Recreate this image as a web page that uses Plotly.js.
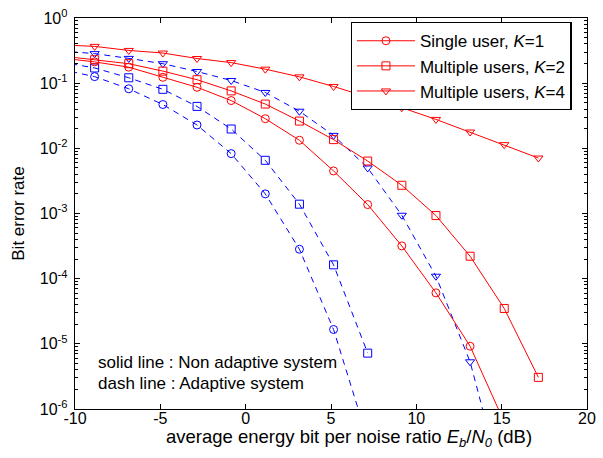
<!DOCTYPE html>
<html>
<head>
<meta charset="utf-8">
<script src="https://cdn.plot.ly/plotly-3.0.1.min.js"></script>
<style>html,body{margin:0;padding:0;background:#fff;}#chart{width:603px;height:458px;}</style>
</head>
<body>
<div id="chart"></div>
<script>
// Eb/N0 (dB) sample points
var ebn0 = [-10.85, -8.85, -6.85, -4.85, -2.85, -0.85, 1.15, 3.15, 5.15, 7.15, 9.15, 11.15, 13.15, 15.15, 17.15];

// Non adaptive system (solid, red)
var nonAdaptiveK1 = [0.244, 0.212, 0.176, 0.123, 0.0865, 0.0541, 0.0285, 0.0133, 0.0045, 0.00137, 3.18e-4, 6.05e-5, 9.2e-6, 6.3e-7];
var nonAdaptiveK2 = [0.262, 0.229, 0.199, 0.153, 0.113, 0.0761, 0.0478, 0.0262, 0.0136, 0.00638, 0.00271, 9.3e-4, 2.21e-4, 3.49e-5, 3.06e-6];
var nonAdaptiveK4 = [0.387, 0.367, 0.318, 0.29, 0.239, 0.207, 0.164, 0.125, 0.089, 0.062, 0.042, 0.0278, 0.0178, 0.0114, 0.0071];

// Adaptive system (dashed, blue)
var adaptiveK1 = [0.163, 0.126, 0.082, 0.0470, 0.0228, 0.0083, 0.00200, 2.83e-4, 1.66e-5, 3.4e-7];
var adaptiveK2 = [0.212, 0.171, 0.121, 0.0805, 0.044, 0.0198, 0.00655, 0.00139, 1.63e-4, 7.2e-6];
var adaptiveK4 = [0.313, 0.284, 0.240, 0.199, 0.151, 0.110, 0.072, 0.0371, 0.0158, 0.005, 9.4e-4, 1.09e-4, 5.3e-6, 5.5e-8];

var legendNames = ['Single user, <i>K</i>=1', 'Multiple users, <i>K</i>=2', 'Multiple users, <i>K</i>=4'];

var xTickVals = [-10, -5, 0, 5, 10, 15, 20];
var xTickText = ['-10', '-5', '0', '5', '10', '15', '20'];
var yTickVals = [1e-6, 1e-5, 1e-4, 1e-3, 1e-2, 1e-1, 1];
var yTickText = ['10<sup>-6</sup>', '10<sup>-5</sup>', '10<sup>-4</sup>', '10<sup>-3</sup>', '10<sup>-2</sup>', '10<sup>-1</sup>', '10<sup>0</sup>'];
var xTitle = 'average energy bit per noise ratio <i>E</i><sub><i>b</i></sub>/<i>N</i><sub><i>0</i></sub> (dB)';
var yTitle = 'Bit error rate';
var noteSolid = 'solid line : Non adaptive system';
var noteDash = 'dash line : Adaptive system';

var yMinor = [];
for (var e = -6; e < 0; e++) { for (var m = 2; m <= 9; m++) { yMinor.push(m * Math.pow(10, e)); } }

var RED = '#ff0000', BLUE = '#0000ff';
var FONT = 'Arial, "Liberation Sans", sans-serif';

function tr(y, color, dash, symbol, name, show) {
  return {
    x: ebn0.slice(0, y.length), y: y, type: 'scatter', mode: 'lines+markers',
    name: name || '', showlegend: !!show,
    line: {color: color, width: 1, dash: dash},
    marker: {symbol: symbol, size: 8, color: color, line: {color: color, width: 1}}
  };
}

var data = [
  tr(adaptiveK1, BLUE, '6px,5px', 'circle-open'),
  tr(adaptiveK2, BLUE, '6px,5px', 'square-open'),
  tr(adaptiveK4, BLUE, '6px,5px', 'triangle-down-open'),
  tr(nonAdaptiveK1, RED, 'solid', 'circle-open', legendNames[0], true),
  tr(nonAdaptiveK2, RED, 'solid', 'square-open', legendNames[1], true),
  tr(nonAdaptiveK4, RED, 'solid', 'triangle-down-open', legendNames[2], true)
];

var layout = {
  width: 603, height: 458,
  margin: {l: 75, r: 16, t: 18, b: 49},
  paper_bgcolor: '#fff', plot_bgcolor: '#fff',
  font: {family: FONT, color: '#000', size: 16},
  showlegend: true,
  xaxis: {
    range: [-10, 20], tickmode: 'array', tickvals: xTickVals, ticktext: xTickText,
    ticks: 'inside', ticklen: 5, tickcolor: '#000', mirror: 'allticks',
    showline: true, linecolor: '#000', linewidth: 1.3, showgrid: false, zeroline: false,
    tickfont: {size: 16}, ticklabelstandoff: -6
  },
  yaxis: {
    type: 'log', range: [-6, 0], tickmode: 'array', tickvals: yTickVals, ticktext: yTickText,
    ticks: 'inside', ticklen: 5, tickcolor: '#000', mirror: 'allticks',
    showline: true, linecolor: '#000', linewidth: 1.3, showgrid: false, zeroline: false,
    tickfont: {size: 16}, ticklabelstandoff: 3,
    minor: {tickmode: 'array', tickvals: yMinor, ticks: 'inside', ticklen: 3, tickcolor: '#000', showgrid: false},
    title: {text: yTitle, font: {size: 17}, standoff: 10}
  },
  legend: {
    x: 0.97, y: 0.99, xanchor: 'right', yanchor: 'top',
    bgcolor: '#fff', bordercolor: '#000', borderwidth: 1.3,
    font: {size: 17}, tracegroupgap: 0, itemwidth: 58
  },
  annotations: [
    {text: xTitle, xref: 'paper', yref: 'paper', x: 0.535, y: -0.074, xanchor: 'center', yanchor: 'middle', showarrow: false, font: {size: 18.5}},
    {text: noteSolid, xref: 'paper', yref: 'paper', x: 0.041, y: 0.118, xanchor: 'left', yanchor: 'middle', showarrow: false, font: {size: 17}},
    {text: noteDash, xref: 'paper', yref: 'paper', x: 0.041, y: 0.066, xanchor: 'left', yanchor: 'middle', showarrow: false, font: {size: 17}}
  ]
};

Plotly.newPlot('chart', data, layout, {staticPlot: true, displayModeBar: false});
</script>
</body>
</html>
